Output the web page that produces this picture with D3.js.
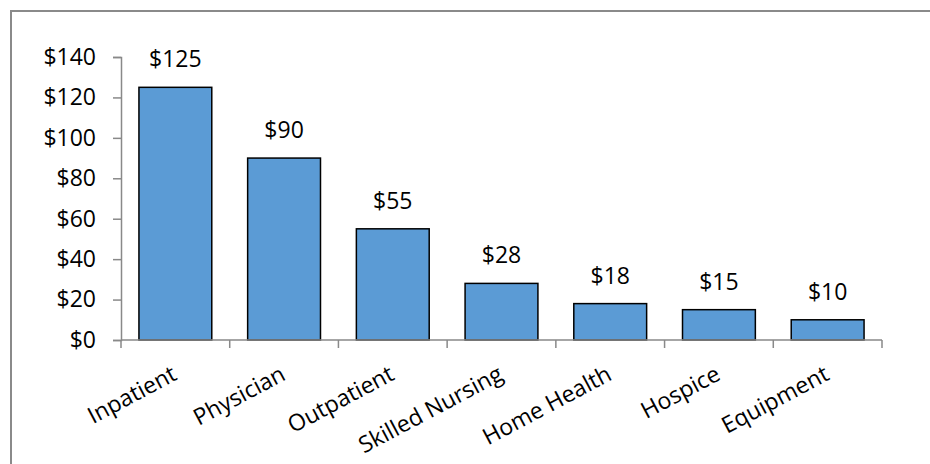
<!DOCTYPE html>
<html>
<head>
<meta charset="utf-8">
<script src="https://cdn.jsdelivr.net/npm/d3@7"></script>
<style>
  html, body { margin: 0; padding: 0; background: #fff; }
  svg { display: block; font-family: "Open Sans", sans-serif; }
</style>
</head>
<body>
<svg id="chart" width="930" height="464"></svg>
<script>
const categories = ["Inpatient", "Physician", "Outpatient", "Skilled Nursing", "Home Health", "Hospice", "Equipment"];
const values = [125, 90, 55, 28, 18, 15, 10];
const yTicks = [0, 20, 40, 60, 80, 100, 120, 140];

const svg = d3.select("#chart");
const fontSize = 23;

// chart border (left and top visible; image cropped at right/bottom)
svg.append("rect")
  .attr("x", 11).attr("y", 11)
  .attr("width", 1000).attr("height", 1000)
  .attr("fill", "none").attr("stroke", "#8a8a8a").attr("stroke-width", 2);

const x = d3.scaleBand().domain(categories).range([121, 882]).paddingInner(0.33).paddingOuter(0.165);
const y = d3.scaleLinear().domain([0, 140]).range([340, 57]);

const axisColor = "#898989";

// y axis
const yAxis = svg.append("g").attr("transform", "translate(121,0)")
  .call(d3.axisLeft(y).tickValues(yTicks).tickSize(8).tickPadding(17).tickFormat(d => "$" + d));
yAxis.select(".domain").attr("stroke", axisColor).attr("stroke-width", 1.5);
yAxis.selectAll(".tick line").attr("stroke", axisColor).attr("stroke-width", 1.5);
yAxis.selectAll(".tick text").attr("font-size", fontSize).attr("font-family", "Open Sans, sans-serif").attr("fill", "#000");

// bars
svg.append("g").selectAll("rect").data(values).join("rect")
  .attr("x", (d, i) => x(categories[i]))
  .attr("y", d => y(d))
  .attr("width", x.bandwidth())
  .attr("height", d => y(0) - y(d))
  .attr("fill", "#5B9BD5")
  .attr("stroke", "#000").attr("stroke-width", 1.5);

// value labels
svg.append("g").selectAll("text").data(values).join("text")
  .attr("x", (d, i) => x(categories[i]) + x.bandwidth() / 2)
  .attr("y", d => y(d) - 20)
  .attr("text-anchor", "middle")
  .attr("font-size", fontSize)
  .attr("fill", "#000")
  .text(d => "$" + d);

// x axis line
const step = x.step();
svg.append("line")
  .attr("x1", 121).attr("x2", 882).attr("y1", y(0)).attr("y2", y(0))
  .attr("stroke", axisColor).attr("stroke-width", 1.5);
// x ticks at category boundaries
const bounds = d3.range(categories.length + 1).map(i => 121 + i * step);
svg.append("g").selectAll("line").data(bounds).join("line")
  .attr("x1", d => d).attr("x2", d => d)
  .attr("y1", y(0)).attr("y2", y(0) + 8)
  .attr("stroke", axisColor).attr("stroke-width", 1.5);

// rotated category labels
svg.append("g").selectAll("text").data(categories).join("text")
  .attr("transform", d => `translate(${x(d) + x.bandwidth() / 2 + 3},${y(0) + 39}) rotate(-28)`)
  .attr("text-anchor", "end")
  .attr("font-size", fontSize)
  .attr("fill", "#000")
  .text(d => d);
</script>
</body>
</html>
